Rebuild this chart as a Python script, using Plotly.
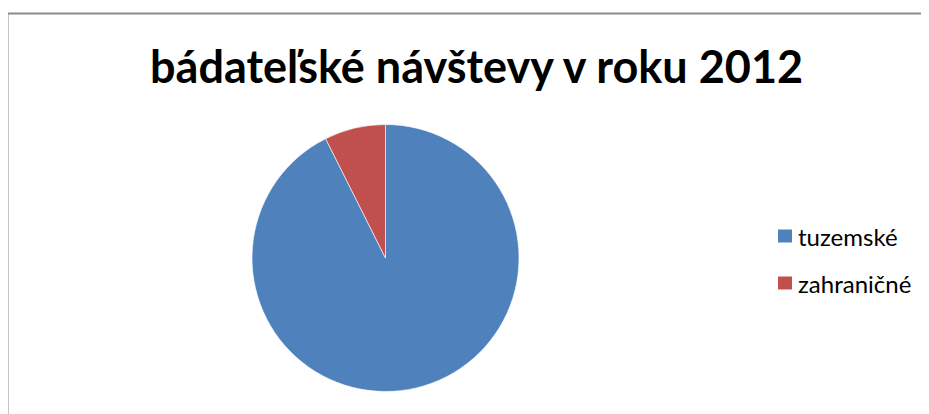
import plotly.graph_objects as go

labels = ["tuzemské", "zahraničné"]
values = [92.6, 7.4]
colors = ["#4F81BD", "#C0504D"]
title_text = "bádateľské návštevy v roku 2012"

W, H = 929, 414
OFF = 8  # page body margin in the browser


def px(x):
    return (x - OFF) / W


def py(y):
    return 1 - (y - OFF) / H


fig = go.Figure()
fig.add_trace(go.Pie(
    labels=labels, values=values, sort=False, direction="clockwise", rotation=0,
    marker=dict(colors=colors, line=dict(color="white", width=0.6)),
    textinfo="none", hoverinfo="label+percent", showlegend=False,
    domain=dict(x=[px(252), px(519)], y=[py(391.5), py(124.5)]),
))

shapes = [dict(type="rect", xref="paper", yref="paper",
               x0=px(7.5), x1=1.2, y0=-0.2, y1=py(13.5),
               line=dict(color="#8C8C8C", width=2), fillcolor="rgba(0,0,0,0)")]
annotations = [dict(text=f"<b>{title_text}</b>", xref="paper", yref="paper",
                    x=px(476), y=py(66), xanchor="center", yanchor="middle",
                    showarrow=False, font=dict(family="Lato", size=45, color="black"))]

leg_y = [236, 283]
for lab, col, yy in zip(labels, colors, leg_y):
    shapes.append(dict(type="rect", xref="paper", yref="paper",
                       x0=px(778), x1=px(792), y0=py(yy + 6.5), y1=py(yy - 6.5),
                       line=dict(width=0), fillcolor=col))
    annotations.append(dict(text=lab, xref="paper", yref="paper",
                            x=px(796), y=py(yy), xanchor="left", yanchor="middle",
                            showarrow=False, font=dict(family="Lato", size=24, color="black")))

fig.update_layout(
    width=W, height=H, margin=dict(l=0, r=0, t=0, b=0),
    paper_bgcolor="white", plot_bgcolor="white",
    shapes=shapes, annotations=annotations,
)
fig.write_html("out.html")
